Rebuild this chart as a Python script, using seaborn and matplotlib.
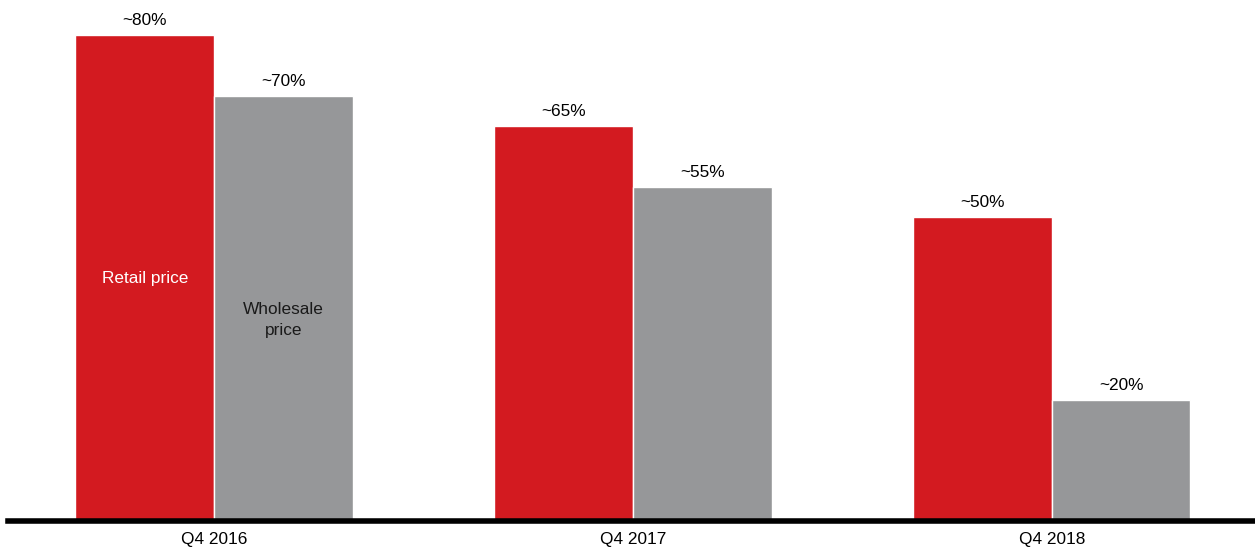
import matplotlib
matplotlib.use("Agg")
import matplotlib.pyplot as plt
import seaborn as sns
import pandas as pd

categories = ["Q4 2016", "Q4 2017", "Q4 2018"]
series_names = ["Retail price", "Wholesale price"]
retail = [80, 65, 50]
wholesale = [70, 55, 20]
retail_labels = ["~80%", "~65%", "~50%"]
wholesale_labels = ["~70%", "~55%", "~20%"]

df = pd.DataFrame({
    "quarter": categories * 2,
    "series": [series_names[0]] * 3 + [series_names[1]] * 3,
    "value": retail + wholesale,
})

sns.set_style("white")
plt.rcParams["font.family"] = ["Liberation Sans", "DejaVu Sans"]

fig = plt.figure(figsize=(12.55, 5.52), dpi=100)
ax = fig.add_axes([8 / 1255, 31 / 552, 1 - 8 / 1255, 521 / 552])

red = "#D31A20"
gray = "#969799"
sns.barplot(data=df, x="quarter", y="value", hue="series", order=categories,
            hue_order=series_names, palette=[red, gray], width=0.662, gap=0,
            edgecolor="white", linewidth=1, legend=False, ax=ax, saturation=1)

ax.set_xlim(-0.492, 2.485)
ax.set_ylim(0, 85.8)
ax.set_xlabel("")
ax.set_ylabel("")
ax.set_yticks([])
for s in ["top", "right", "left"]:
    ax.spines[s].set_visible(False)
ax.spines["bottom"].set_linewidth(4)
ax.spines["bottom"].set_color("black")
ax.tick_params(axis="x", length=0, labelsize=12.4, pad=8, colors="black")

for c, lbl in zip(ax.containers, [retail_labels, wholesale_labels]):
    ax.bar_label(c, labels=lbl, padding=5, fontsize=12.4, color="black")

# in-bar series labels on first group
bars_r = ax.containers[0].patches
bars_w = ax.containers[1].patches
br = bars_r[0]
ax.text(br.get_x() + br.get_width() / 2, 39.9, "Retail price", ha="center",
        va="center", color="white", fontsize=12.4)
bw = bars_w[0]
ax.text(bw.get_x() + bw.get_width() / 2, 33.1, "Wholesale\nprice", ha="center",
        va="center", color="#1a1a1a", fontsize=12.4, linespacing=1.45)

fig.savefig("out.png", dpi=100)
